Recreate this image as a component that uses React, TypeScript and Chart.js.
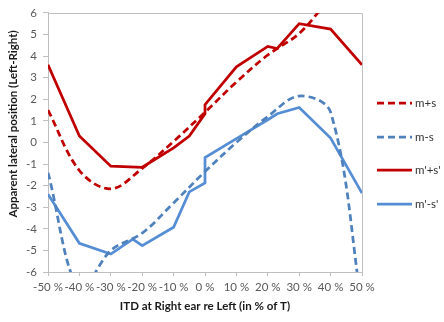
import React, { useEffect, useRef } from "react";
import { Chart, registerables } from "chart.js";

Chart.register(...registerables);

const xTicksMin = -50;
const xTicksMax = 50;
const yTicksMin = -6;
const yTicksMax = 6;

const mPlusSX = [-50, -40, -30, -20, -10, 0, 10, 20, 30, 40, 50];
const mPlusSY = [1.5, -1.3, -2.15, -1.2, 0.05, 1.4, 2.8, 4.05, 5.05, 6.7, 8.2];

const mMinusSX = [-50, -40, -30, -20, -10, 0, 10, 20, 30, 40, 50];
const mMinusSY = [-1.4, -6.8, -5.0, -4.2, -2.8, -1.35, 0.0, 1.2, 2.15, 1.4, -7.6];

const mpPlusSpX = [-50, -40, -30, -20, -10, -5, 0, 0, 10, 20, 23, 30, 40, 50];
const mpPlusSpY = [3.6, 0.3, -1.1, -1.15, -0.25, 0.3, 1.33, 1.75, 3.5, 4.45, 4.35, 5.5, 5.25, 3.6];

const mpMinusSpX = [-50, -40, -30, -23, -20, -10, -5, 0, 0, 10, 20, 23, 30, 40, 50];
const mpMinusSpY = [-2.4, -4.67, -5.17, -4.48, -4.78, -3.93, -2.29, -1.88, -0.7, 0.18, 1.05, 1.33, 1.62, 0.2, -2.35];

const seriesLabels = ["m+s", "m-s", "m'+s'", "m'-s'"];
const xTitle = "ITD at Right ear re Left (in % of T)";
const yTitle = "Apparent lateral position (Left-Right)";

const FONT = "Lato";

function pts(xs: number[], ys: number[]) {
  return xs.map((x, i) => ({ x, y: ys[i] }));
}

const framePlugin = {
  id: "frame",
  beforeDatasetsDraw(chart: any) {
    const { ctx, chartArea: a } = chart;
    ctx.save();
    ctx.strokeStyle = "#BFBFBF";
    ctx.lineWidth = 1;
    ctx.beginPath();
    ctx.moveTo(Math.round(a.left) + 0.5, Math.round(a.top) + 0.5);
    ctx.lineTo(Math.round(a.right) + 0.5, Math.round(a.top) + 0.5);
    ctx.lineTo(Math.round(a.right) + 0.5, Math.round(a.bottom) + 0.5);
    ctx.stroke();
    ctx.restore();
  },
  afterDraw(chart: any) {
    const { ctx } = chart;
    ctx.save();
    ctx.fillStyle = "#1a1a1a";
    ctx.font = `bold 11.5px "${FONT}"`;
    ctx.textAlign = "center";
    ctx.textBaseline = "middle";
    ctx.translate(13, 124);
    ctx.rotate(-Math.PI / 2);
    ctx.fillText(yTitle, 0, 0);
    ctx.restore();

    ctx.save();
    const ys = [103, 137, 170, 204];
    chart.data.datasets.forEach((ds: any, i: number) => {
      const y = ys[i];
      ctx.strokeStyle = ds.borderColor;
      ctx.lineWidth = ds.borderWidth;
      ctx.setLineDash(ds.borderDash || []);
      ctx.beginPath();
      ctx.moveTo(377, y);
      ctx.lineTo(412, y);
      ctx.stroke();
      ctx.setLineDash([]);
      ctx.fillStyle = "#333333";
      ctx.font = `11.5px "${FONT}"`;
      ctx.textAlign = "left";
      ctx.textBaseline = "middle";
      ctx.fillText(ds.label, 415, y);
    });
    ctx.restore();
  },
};

export default function App() {
  const ref = useRef<HTMLCanvasElement | null>(null);

  useEffect(() => {
    if (!ref.current) return;
    const red = "#C00000";
    const blueDash = "#4F81BD";
    const blueSolid = "#558ED5";
    const chart = new Chart(ref.current, {
      type: "scatter",
      data: {
        datasets: [
          {
            label: seriesLabels[0],
            data: pts(mPlusSX, mPlusSY),
            showLine: true,
            borderColor: red,
            backgroundColor: red,
            borderWidth: 2.75,
            borderDash: [7, 4],
            tension: 0.35,
            pointRadius: 0,
            clip: 0,
          },
          {
            label: seriesLabels[1],
            data: pts(mMinusSX, mMinusSY),
            showLine: true,
            borderColor: blueDash,
            backgroundColor: blueDash,
            borderWidth: 2.75,
            borderDash: [7, 4],
            tension: 0.35,
            pointRadius: 0,
            clip: 0,
          },
          {
            label: seriesLabels[2],
            data: pts(mpPlusSpX, mpPlusSpY),
            showLine: true,
            borderColor: red,
            backgroundColor: red,
            borderWidth: 2.75,
            tension: 0,
            pointRadius: 0,
            clip: 0,
          },
          {
            label: seriesLabels[3],
            data: pts(mpMinusSpX, mpMinusSpY),
            showLine: true,
            borderColor: blueSolid,
            backgroundColor: blueSolid,
            borderWidth: 2.75,
            tension: 0,
            pointRadius: 0,
            clip: 0,
          },
        ],
      },
      options: {
        responsive: false,
        animation: false,
        elements: { line: { capBezierPoints: false, borderCapStyle: "butt" } },
        layout: { padding: { left: 0, right: 82, top: 12, bottom: 0 } },
        plugins: {
          legend: { display: false },
          tooltip: { enabled: false },
        },
        scales: {
          x: {
            type: "linear",
            min: xTicksMin,
            max: xTicksMax,
            afterFit: (s: any) => {
              s.height = 50;
            },
            ticks: {
              stepSize: 10,
              autoSkip: false,
              color: "#595959",
              font: { family: FONT, size: 11.5 },
              padding: 4,
              maxRotation: 0,
              minRotation: 0,
              callback: (v: any) => `${v} %`,
            },
            grid: {
              drawOnChartArea: false,
              drawTicks: true,
              tickLength: 4,
              color: "#BFBFBF",
            },
            border: { display: true, color: "#BFBFBF" },
            title: {
              display: true,
              text: xTitle,
              color: "#1a1a1a",
              font: { family: FONT, size: 11.5, weight: "bold" },
              padding: { top: 0, bottom: 9 },
            },
          },
          y: {
            type: "linear",
            min: yTicksMin,
            max: yTicksMax,
            afterFit: (s: any) => {
              s.width = 48;
            },
            ticks: {
              stepSize: 1,
              autoSkip: false,
              color: "#595959",
              font: { family: FONT, size: 11.5 },
              padding: 6,
            },
            grid: {
              drawOnChartArea: false,
              drawTicks: true,
              tickLength: 5,
              color: "#BFBFBF",
            },
            border: { display: true, color: "#BFBFBF" },
          },
        },
      },
      plugins: [framePlugin],
    } as any);
    return () => chart.destroy();
  }, []);

  return (
    <div style={{ position: "absolute", left: 0, top: 0, width: 444, height: 322, background: "#fff" }}>
      <canvas ref={ref} width={444} height={322} style={{ display: "block" }} />
    </div>
  );
}
